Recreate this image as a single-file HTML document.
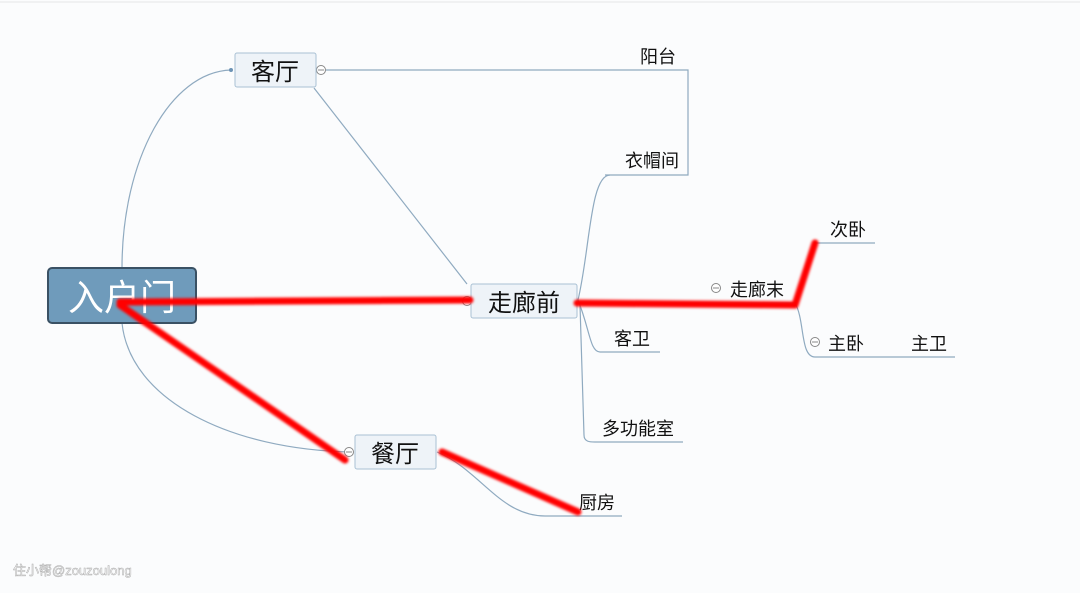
<!DOCTYPE html>
<html><head><meta charset="utf-8"><style>
html,body{margin:0;padding:0;background:#fbfcfd;}
svg{display:block;font-family:"Liberation Sans","Noto Sans CJK SC",sans-serif;}
</style></head><body>
<svg width="1080" height="593" viewBox="0 0 1080 593" xmlns="http://www.w3.org/2000/svg">
<defs><filter id="b" x="-10%" y="-50%" width="120%" height="200%"><feGaussianBlur stdDeviation="1.3"/></filter></defs>
<rect width="1080" height="593" fill="#fbfcfd"/>
<line x1="0" y1="2" x2="1080" y2="2" stroke="#e4e6e8"/>
<g fill="none" stroke="#8faac0" stroke-width="1.2">
<path d="M122 268 C122 160 170 72 231 70"/>
<path d="M122 323 C130 400 230 450 352 452"/>
<path d="M326 70 L688 70 L688 175 L605 175"/>
<path d="M314 88 L467 284"/>
<path d="M578 300 C590 250 590 175 610 175"/>
<path d="M578 300 C590 330 590 352 600 352 L660 352"/>
<path d="M580 305 L584 435 C584 442 590 442 595 442 L683 442"/>
<path d="M577 303 L795 303"/>
<path d="M815 243 L875 243"/>
<path d="M795 303 C805 320 800 357 815 357 L955 357"/>
<path d="M437 452 C480 470 500 516 545 516 L622 516"/>
</g>
<circle cx="231" cy="70" r="2" fill="#6d93b5"/>
<g fill="#fff" stroke="#888" stroke-width="1">
<circle cx="321" cy="70" r="4.5"/><circle cx="467" cy="301" r="4.5"/><circle cx="349" cy="452" r="4.5"/>
<circle cx="716" cy="288" r="4.5"/><circle cx="815" cy="342" r="4.5"/>
</g>
<g stroke="#888" stroke-width="1"><line x1="318" y1="70" x2="324" y2="70"/><line x1="346" y1="452" x2="352" y2="452"/><line x1="713" y1="288" x2="719" y2="288"/><line x1="812" y1="342" x2="818" y2="342"/></g>
<rect x="48" y="268" width="148" height="55" rx="4" fill="#6f9bbb" stroke="#3a5164" stroke-width="2"/>
<text x="122" y="310" font-size="36" fill="#fff" text-anchor="middle">入户门</text>
<rect x="235" y="53" width="81" height="34" rx="2" fill="#eef3f8" stroke="#a9c1d4"/>
<text x="275" y="80" font-size="24" text-anchor="middle" fill="#111">客厅</text>
<rect x="471" y="284" width="106" height="34" rx="2" fill="#eef3f8" stroke="#a9c1d4"/>
<text x="524" y="311" font-size="24" text-anchor="middle" fill="#111">走廊前</text>
<rect x="355" y="435" width="81" height="34" rx="2" fill="#eef3f8" stroke="#a9c1d4"/>
<text x="395" y="462" font-size="24" text-anchor="middle" fill="#111">餐厅</text>
<g font-size="18" fill="#111">
<text x="640" y="63">阳台</text>
<text x="625" y="167">衣帽间</text>
<text x="614" y="345">客卫</text>
<text x="602" y="435">多功能室</text>
<text x="730" y="296">走廊末</text>
<text x="830" y="236">次卧</text>
<text x="828" y="350">主卧</text>
<text x="911" y="350">主卫</text>
<text x="579" y="509">厨房</text>
</g>
<g fill="none" stroke="#ff0000" stroke-width="7" stroke-linecap="round" stroke-linejoin="round" filter="url(#b)">
<path d="M120 302 L470 300"/>
<path d="M577 303 L795 305 L815 243"/>
<path d="M120 305 L345 460"/>
<path d="M442 452 L578 512"/>
</g>
<text x="13" y="575" font-size="13" fill="#fff" stroke="#aaa" stroke-width="0.5">住小帮@zouzoulong</text>
</svg>
</body></html>
